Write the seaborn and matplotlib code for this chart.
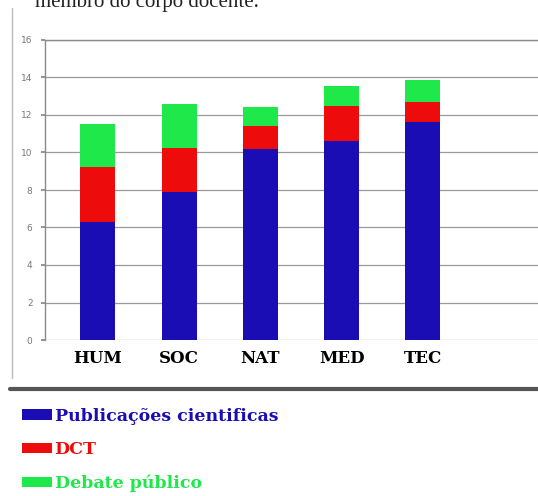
import matplotlib
matplotlib.use("Agg")
import matplotlib.pyplot as plt
import seaborn as sns
import pandas as pd
import numpy as np
from matplotlib.patches import Patch
from matplotlib.lines import Line2D

categories = ["HUM", "SOC", "NAT", "MED", "TEC"]
publicacoes = [6.3, 7.9, 10.2, 10.6, 11.6]
dct = [2.9, 2.35, 1.2, 1.9, 1.1]
debate = [2.3, 2.35, 1.0, 1.05, 1.15]
series_names = ["Publicações cientificas", "DCT", "Debate público"]
colors = ["#1a0db4", "#ee0b0b", "#1ee84a"]
yticks = [0, 2, 4, 6, 8, 10, 12, 14, 16]

sns.set_theme(style="white")
plt.rcParams['font.family'] = ['DejaVu Sans']

fig = plt.figure(figsize=(5.38, 4.96), dpi=100)
ax = fig.add_axes([45/538, (496-340)/496, (538-45)/538 + 0.02, 300/496])

df = pd.DataFrame({"cat": categories,
                   "p": publicacoes, "d": dct, "g": debate})
df["t1"] = df["p"]
df["t2"] = df["p"] + df["d"]
df["t3"] = df["t2"] + df["g"]

for col, c in [("t3", colors[2]), ("t2", colors[1]), ("t1", colors[0])]:
    sns.barplot(data=df, x="cat", y=col, color=c, width=0.43,
                saturation=1, ax=ax, order=categories, edgecolor="none")

ax.set_ylim(0, 16)
ax.set_xlim(-0.65, 5.55)
ax.set_yticks(yticks)
ax.set_yticklabels([str(v) for v in yticks], fontsize=6.5, color="#777777")
ax.tick_params(axis="y", length=3, color="#888888", pad=6, left=True)
ax.yaxis.grid(True, color="#9a9a9a", linewidth=0.9)
ax.set_axisbelow(True)
ax.set_xlabel("")
ax.set_ylabel("")
ax.tick_params(axis="x", length=0, pad=7)
for lab in ax.get_xticklabels():
    lab.set_fontfamily("DejaVu Serif")
    lab.set_fontweight("heavy")
    lab.set_fontsize(12)
    lab.set_color("black")
for s in ["right", "bottom"]:
    ax.spines[s].set_visible(False)
for s in ["top", "left"]:
    ax.spines[s].set_color("#8a8a8a")
    ax.spines[s].set_linewidth(1.0)

# decorative page lines
fig.add_artist(Line2D([12/538, 12/538], [1-8/496, 1-378/496],
                      color="#bbbbbb", lw=1, transform=fig.transFigure))
fig.add_artist(Line2D([10/538, 1.0], [1-389/496, 1-389/496],
                      color="#555555", lw=3, transform=fig.transFigure))

fig.text(35/538, 1-7/496, "membro do corpo docente.", fontsize=15,
         family="Liberation Serif", color="#222222", va="baseline")

handles = [Patch(facecolor=c, edgecolor="none") for c in colors]
leg = fig.legend(handles=handles, labels=series_names, loc="upper left",
                 bbox_to_anchor=(0.012, 1-392/496), frameon=False,
                 labelcolor=colors, handlelength=1.75, handleheight=0.55,
                 handletextpad=0.12, labelspacing=0.95,
                 prop={"family": "DejaVu Serif", "weight": "bold", "size": 12.5})

fig.savefig("out.png", dpi=100)
